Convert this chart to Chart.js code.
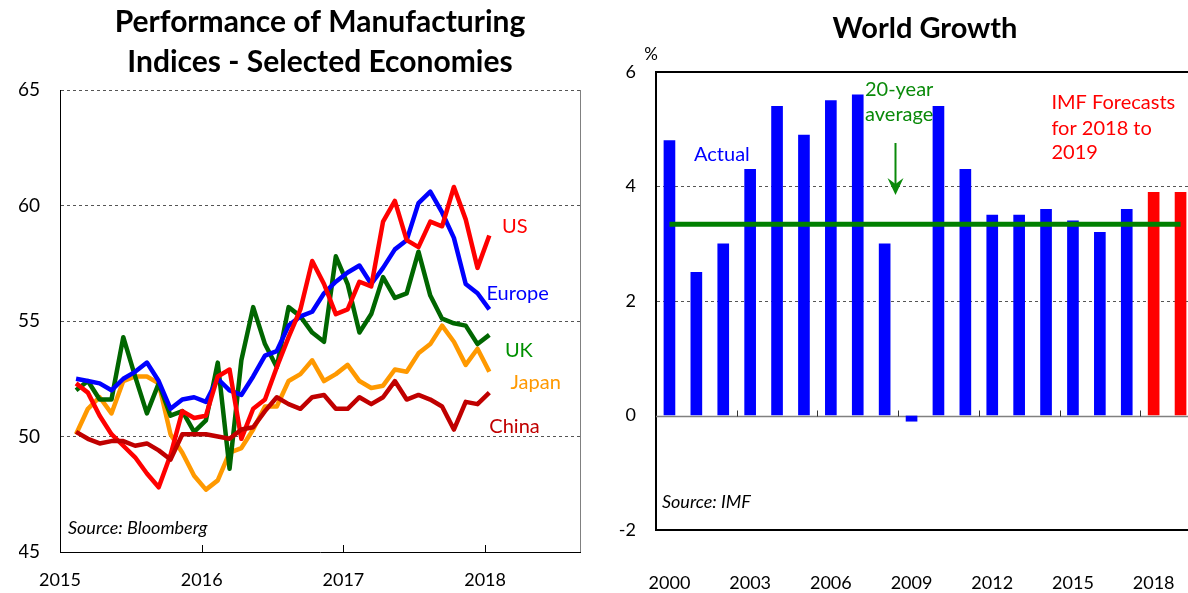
<!DOCTYPE html>
<html>
<head>
<meta charset="utf-8">
<script src="https://cdn.jsdelivr.net/npm/chart.js@4/dist/chart.umd.min.js"></script>
<style>
  html, body { margin: 0; padding: 0; background: #fff; overflow: hidden; }
  #wrap { position: relative; width: 1188px; height: 593px; overflow: hidden; }
  #left { position: absolute; left: 0; top: 0; }
  #right { position: absolute; left: 600px; top: 0; }
</style>
</head>
<body>
<div id="wrap">
  <canvas id="left" width="600" height="593"></canvas>
  <canvas id="right" width="600" height="593"></canvas>
</div>
<script>
'use strict';

// ── Manufacturing PMIs, monthly Jan 2015 – Dec 2017 ──
const usPMI     = [52.3, 51.9, 50.9, 50.1, 49.6, 49.1, 48.4, 47.8, 49.2, 51.1, 50.8, 50.9,
                   52.6, 52.9, 49.9, 51.2, 51.6, 53.0, 54.3, 55.5, 57.6, 56.6, 55.3, 55.5,
                   56.7, 56.5, 59.3, 60.2, 58.5, 58.2, 59.3, 59.1, 60.8, 59.4, 57.3, 58.7];
const europePMI = [52.5, 52.4, 52.3, 52.0, 52.5, 52.8, 53.2, 52.4, 51.2, 51.6, 51.7, 51.5,
                   52.5, 52.0, 51.8, 52.6, 53.5, 53.7, 54.8, 55.2, 55.4, 56.2, 56.7, 57.1,
                   57.4, 56.6, 57.3, 58.1, 58.5, 60.1, 60.6, 59.7, 58.6, 56.6, 56.2, 55.5];
const ukPMI     = [52.0, 52.4, 51.6, 51.6, 54.3, 52.6, 51.0, 52.3, 50.9, 51.1, 50.2, 50.7,
                   53.2, 48.6, 53.3, 55.6, 54.0, 53.0, 55.6, 55.2, 54.5, 54.1, 57.8, 56.6,
                   54.5, 55.3, 56.9, 56.0, 56.2, 58.0, 56.1, 55.1, 54.9, 54.8, 54.0, 54.4];
const japanPMI  = [50.1, 51.2, 51.7, 51.0, 52.4, 52.6, 52.6, 52.3, 50.1, 49.3, 48.3, 47.7,
                   48.1, 49.3, 49.5, 50.3, 51.3, 51.3, 52.4, 52.7, 53.3, 52.4, 52.7, 53.1,
                   52.4, 52.1, 52.2, 52.9, 52.8, 53.6, 54.0, 54.8, 54.1, 53.1, 53.8, 52.8];
const chinaPMI  = [50.2, 49.9, 49.7, 49.8, 49.8, 49.6, 49.7, 49.4, 49.0, 50.1, 50.1, 50.1,
                   50.0, 49.9, 50.3, 50.4, 51.1, 51.7, 51.4, 51.2, 51.7, 51.8, 51.2, 51.2,
                   51.7, 51.4, 51.7, 52.4, 51.6, 51.8, 51.6, 51.3, 50.3, 51.5, 51.4, 51.9];
const yearTicks = [2015, 2016, 2017, 2018];

// ── World growth (IMF), % ──
const years         = ['2000', '2001', '2002', '2003', '2004', '2005', '2006', '2007', '2008', '2009',
                       '2010', '2011', '2012', '2013', '2014', '2015', '2016', '2017', '2018', '2019'];
const worldGrowth   = [4.8, 2.5, 3.0, 4.3, 5.4, 4.9, 5.5, 5.6, 3.0, -0.1,
                       5.4, 4.3, 3.5, 3.5, 3.6, 3.4, 3.2, 3.6, 3.9, 3.9];
const forecastYears = ['2018', '2019'];
const twentyYearAvg = 3.34;

const FONT = 'Lato, "Liberation Sans", sans-serif';

// each month sits a little past the start of its month on the reference axis
const toPoints = arr => arr.map((v, i) => ({ x: 2015 + (i + 1.36) / 12, y: v }));

function lineSeries(label, values, color) {
  return {
    label,
    data: toPoints(values),
    borderColor: color,
    backgroundColor: color,
    borderWidth: 4.5,
    pointRadius: 0,
    tension: 0,
    borderJoinStyle: 'round',
  };
}

// ── Left chart: frame pieces + end labels ──
const leftDecor = {
  id: 'leftDecor',
  beforeDatasetsDraw(chart) {
    const { ctx, chartArea: a, scales: { x } } = chart;
    ctx.save();
    ctx.lineWidth = 1;
    ctx.strokeStyle = '#808080';
    ctx.beginPath();
    ctx.moveTo(a.right + 0.5, a.top);
    ctx.lineTo(a.right + 0.5, a.bottom);
    ctx.stroke();
    // small inward tick marks on the time axis
    ctx.strokeStyle = '#000';
    for (const t of x.ticks) {
      if (t.value <= x.min) continue;
      const px = Math.round(x.getPixelForValue(t.value)) + 0.5;
      ctx.beginPath();
      ctx.moveTo(px, a.bottom);
      ctx.lineTo(px, a.bottom - 7);
      ctx.stroke();
    }
    ctx.restore();
  },
  afterDatasetsDraw(chart) {
    const { ctx, scales: { x, y } } = chart;
    const tags = [
      ['US',     '#ff0000', 2018.12, 59.07],
      ['Europe', '#0000ff', 2018.01, 56.17],
      ['UK',     '#009000', 2018.14, 53.74],
      ['Japan',  '#ff9900', 2018.18, 52.32],
      ['China',  '#c00000', 2018.03, 50.45],
    ];
    ctx.save();
    ctx.textAlign = 'left';
    ctx.textBaseline = 'middle';
    ctx.font = `20px ${FONT}`;
    for (const [text, color, xv, yv] of tags) {
      ctx.fillStyle = color;
      ctx.fillText(text, x.getPixelForValue(xv), y.getPixelForValue(yv));
    }
    ctx.fillStyle = '#000';
    ctx.font = `italic 18px ${FONT}`;
    ctx.fillText('Source: Bloomberg', x.getPixelForValue(2015.056), y.getPixelForValue(46.04));
    ctx.restore();
  }
};

new Chart(document.getElementById('left'), {
  type: 'line',
  data: {
    datasets: [
      lineSeries('China',  chinaPMI,  '#c00000'),
      lineSeries('US',     usPMI,     '#ff0000'),
      lineSeries('Europe', europePMI, '#0000ff'),
      lineSeries('UK',     ukPMI,     '#006600'),
      lineSeries('Japan',  japanPMI,  '#ff9900'),
    ]
  },
  options: {
    responsive: false,
    animation: false,
    layout: { padding: { left: 19, right: 20, top: 0, bottom: 2 } },
    plugins: {
      legend: { display: false },
      tooltip: { enabled: false },
      title: {
        display: true,
        fullSize: false,
        text: ['Performance of Manufacturing', 'Indices - Selected Economies'],
        color: '#000',
        font: { family: FONT, size: 30, weight: 'bold', lineHeight: 1.35 },
        padding: { top: 2, bottom: 7 },
      }
    },
    scales: {
      x: {
        type: 'linear',
        min: 2015,
        max: 2018.67,
        afterBuildTicks: s => { s.ticks = yearTicks.map(v => ({ value: v })); },
        grid: { display: false, drawTicks: false },
        border: { color: '#000', width: 1 },
        ticks: {
          padding: 17,
          color: '#000',
          font: { family: FONT, size: 18 },
          callback: v => String(v),
        },
        afterFit: s => { s.height = 39; }
      },
      y: {
        min: 45,
        max: 65,
        grid: {
          drawTicks: false,
          lineWidth: 1,
          color: c => (c.tick && c.tick.value === 45) ? 'rgba(0,0,0,0)' : '#555',
        },
        border: { color: '#000', width: 1, dash: [3, 3] },
        ticks: {
          stepSize: 5,
          padding: 20,
          color: '#000',
          font: { family: FONT, size: 19 },
        },
        afterFit: s => { s.width = 41; }
      }
    }
  },
  plugins: [leftDecor]
});

// ── Right chart: frame top, zero line, notes, arrow ──
const rightDecor = {
  id: 'rightDecor',
  beforeDatasetsDraw(chart) {
    const { ctx, chartArea: a, scales: { x, y } } = chart;
    ctx.save();
    ctx.strokeStyle = '#000';
    ctx.lineWidth = 2;
    ctx.beginPath();
    ctx.moveTo(a.left - 1, a.top);
    ctx.lineTo(a.right + 1, a.top);
    ctx.stroke();

    const zy = Math.round(y.getPixelForValue(0)) + 0.5;
    ctx.strokeStyle = '#808080';
    ctx.lineWidth = 1.5;
    ctx.beginPath();
    ctx.moveTo(a.left, zy);
    ctx.lineTo(a.right, zy);
    ctx.stroke();

    ctx.strokeStyle = '#333';
    ctx.lineWidth = 1;
    for (let i = 3; i < years.length; i += 3) {
      const px = Math.round((x.getPixelForValue(i) + x.getPixelForValue(i - 1)) / 2) + 0.5;
      ctx.beginPath();
      ctx.moveTo(px, zy);
      ctx.lineTo(px, zy - 6);
      ctx.stroke();
    }

    ctx.fillStyle = '#000';
    ctx.font = `17px ${FONT}`;
    ctx.textAlign = 'center';
    ctx.textBaseline = 'middle';
    ctx.fillText('%', a.left - 5, a.top - 17);
    ctx.restore();
  },
  afterDatasetsDraw(chart) {
    const { ctx, scales: { x, y } } = chart;
    ctx.save();
    ctx.textBaseline = 'middle';
    ctx.font = `20px ${FONT}`;

    ctx.fillStyle = '#0000ff';
    ctx.textAlign = 'center';
    ctx.fillText('Actual', x.getPixelForValue(1.95), y.getPixelForValue(4.55));

    ctx.fillStyle = '#0a8a0a';
    ctx.fillText('20-year', x.getPixelForValue(8.54), y.getPixelForValue(5.7));
    ctx.fillText('average', x.getPixelForValue(8.54), y.getPixelForValue(5.25));

    const ax = Math.round(x.getPixelForValue(8.38)) + 0.5;
    const ay1 = y.getPixelForValue(4.76);
    const ay2 = y.getPixelForValue(3.85);
    ctx.strokeStyle = '#0a8a0a';
    ctx.lineWidth = 2;
    ctx.beginPath();
    ctx.moveTo(ax, ay1);
    ctx.lineTo(ax, ay2 - 10);
    ctx.stroke();
    ctx.beginPath();
    ctx.moveTo(ax - 8, ay2 - 17);
    ctx.lineTo(ax, ay2);
    ctx.lineTo(ax + 8, ay2 - 17);
    ctx.lineTo(ax, ay2 - 11);
    ctx.closePath();
    ctx.fill();

    ctx.fillStyle = '#ff0000';
    ctx.textAlign = 'left';
    const fx = x.getPixelForValue(14.2);
    ctx.fillText('IMF Forecasts', fx, y.getPixelForValue(5.46));
    ctx.fillText('for 2018 to', fx, y.getPixelForValue(5.02));
    ctx.fillText('2019', fx, y.getPixelForValue(4.59));

    ctx.fillStyle = '#000';
    ctx.font = `italic 18px ${FONT}`;
    ctx.fillText('Source: IMF', x.getPixelForValue(-0.28), y.getPixelForValue(-1.52));
    ctx.restore();
  }
};

new Chart(document.getElementById('right'), {
  data: {
    labels: years,
    datasets: [
      {
        type: 'line',
        label: '20-year average',
        data: [{ x: years[0], y: twentyYearAvg }, { x: years[years.length - 1], y: twentyYearAvg }],
        borderColor: '#008000',
        borderWidth: 5,
        pointRadius: 0,
        order: 0,
      },
      {
        type: 'bar',
        label: 'World growth',
        data: worldGrowth,
        backgroundColor: years.map(yr => forecastYears.includes(yr) ? '#ff0000' : '#0000ff'),
        barThickness: 11,
        order: 1,
      }
    ]
  },
  options: {
    responsive: false,
    animation: false,
    layout: { padding: { left: 19, right: 6, top: 0, bottom: 0 } },
    plugins: {
      legend: { display: false },
      tooltip: { enabled: false },
      title: {
        display: true,
        fullSize: false,
        text: 'World Growth',
        color: '#000',
        font: { family: FONT, size: 29, weight: 'bold', lineHeight: 1.4 },
        padding: { top: 8, bottom: 23.4 },
      }
    },
    scales: {
      x: {
        type: 'category',
        offset: true,
        grid: { display: false, drawTicks: false },
        border: { color: '#000', width: 2 },
        ticks: {
          autoSkip: false,
          maxRotation: 0,
          padding: 42,
          color: '#000',
          font: { family: FONT, size: 18 },
          callback: (v, i) => (i % 3 === 0 ? years[i] : ''),
        },
        afterFit: s => {
          s.height = 63;
          // the plot runs right up to (and past) the window edge
          s.paddingLeft = 0;
          s.paddingRight = 0;
        }
      },
      y: {
        min: -2,
        max: 6,
        grid: {
          drawTicks: false,
          lineWidth: 1,
          color: c => (c.tick && (c.tick.value === 2 || c.tick.value === 4)) ? '#555' : 'rgba(0,0,0,0)',
        },
        border: { color: '#000', width: 2, dash: [3, 3] },
        ticks: {
          stepSize: 2,
          padding: 20,
          color: '#000',
          font: { family: FONT, size: 18 },
        },
        afterFit: s => { s.width = 37; }
      }
    }
  },
  plugins: [rightDecor]
});
</script>
</body>
</html>
